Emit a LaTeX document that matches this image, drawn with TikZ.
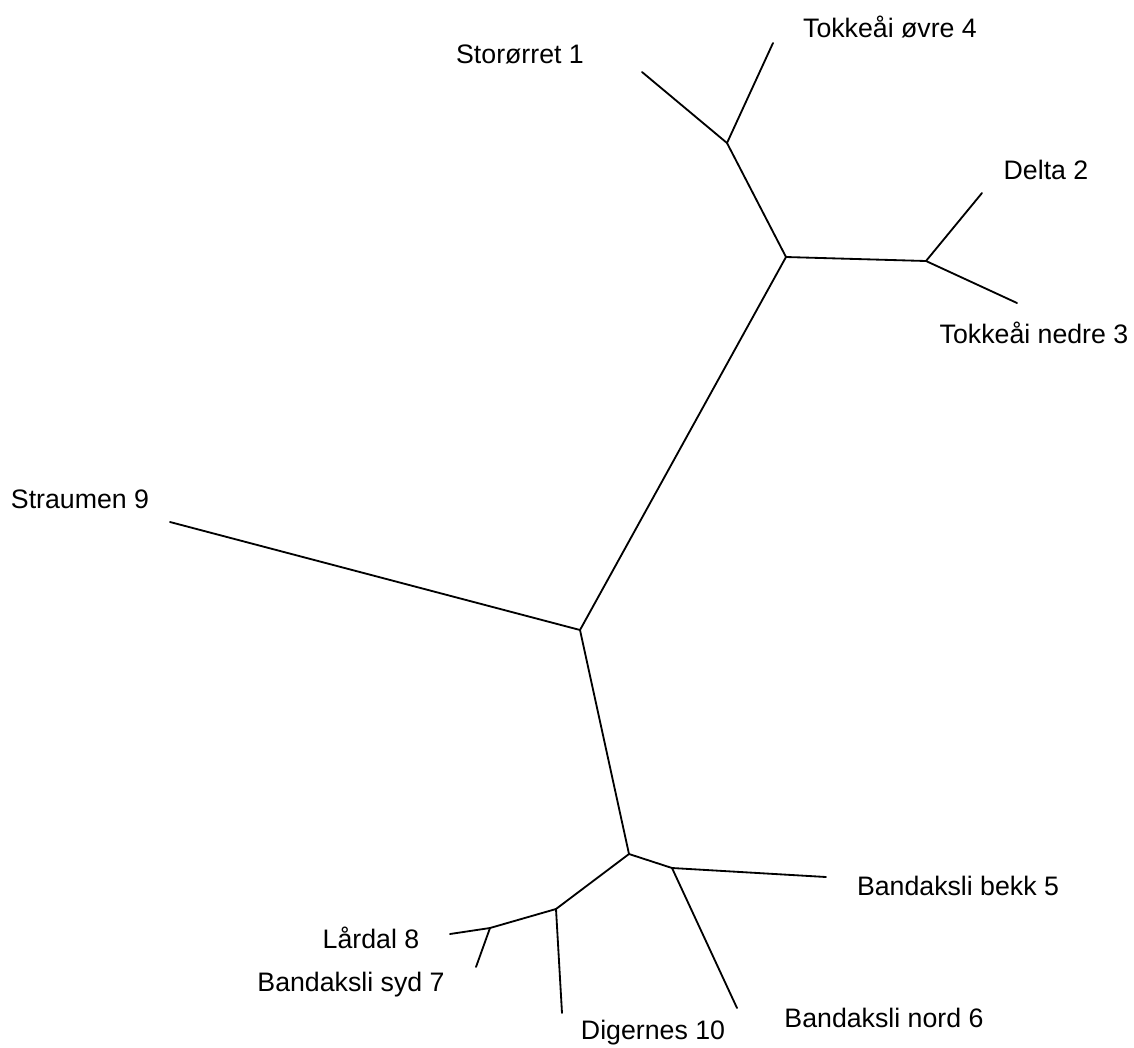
\documentclass[tikz,border=0pt]{standalone}
\usepackage{fontspec}
\setmainfont{Liberation Sans}

\begin{document}
\begin{tikzpicture}[
    x=0.025cm, y=-0.025cm,
    every node/.style={font=\fontsize{19}{22}\selectfont, inner sep=0pt},
    leaf/.style={anchor=center},
    branch/.style={line width=1.3pt, line cap=round, line join=round}
]
\useasboundingbox (0,0) rectangle (1134,1048);
% inner nodes of the tree
\coordinate (root) at (580,630);
\coordinate (tokke) at (786,257);
\coordinate (upper) at (727,143);
\coordinate (lower) at (926,261);
\coordinate (bandak) at (629,854);
\coordinate (bekk) at (672,868);
\coordinate (syd) at (556,909);
\coordinate (lard) at (490,928);
% tips
\coordinate (t1) at (642,72);
\coordinate (t4) at (773,43);
\coordinate (t2) at (982,193);
\coordinate (t3) at (1017,303);
\coordinate (t9) at (170,522);
\coordinate (t5) at (826,877);
\coordinate (t6) at (737,1008);
\coordinate (t10) at (562,1013);
\coordinate (t8) at (450,934);
\coordinate (t7) at (476,967);
% labels
\node[leaf] (l1) at (520,54) {Storørret 1};
\node[leaf] (l4) at (890,27) {Tokkeåi øvre 4};
\node[leaf] (l2) at (1046,170) {Delta 2};
\node[leaf] (l3) at (1034,333) {Tokkeåi nedre 3};
\node[leaf] (l9) at (80,499) {Straumen 9};
\node[leaf] (l5) at (958,886) {Bandaksli bekk 5};
\node[leaf] (l8) at (371,938) {Lårdal 8};
\node[leaf] (l7) at (351,985) {Bandaksli syd 7};
\node[leaf] (l10) at (653,1033) {Digernes 10};
\node[leaf] (l6) at (884,1018) {Bandaksli nord 6};
% branches
\draw[branch] (t9) -- (root) -- (tokke);
\draw[branch] (tokke) -- (upper) -- (t1);
\draw[branch] (upper) -- (t4);
\draw[branch] (tokke) -- (lower) -- (t2);
\draw[branch] (lower) -- (t3);
\draw[branch] (root) -- (bandak) -- (bekk) -- (t5);
\draw[branch] (bekk) -- (t6);
\draw[branch] (bandak) -- (syd) -- (t10);
\draw[branch] (syd) -- (lard) -- (t8);
\draw[branch] (lard) -- (t7);
\end{tikzpicture}
\end{document}
